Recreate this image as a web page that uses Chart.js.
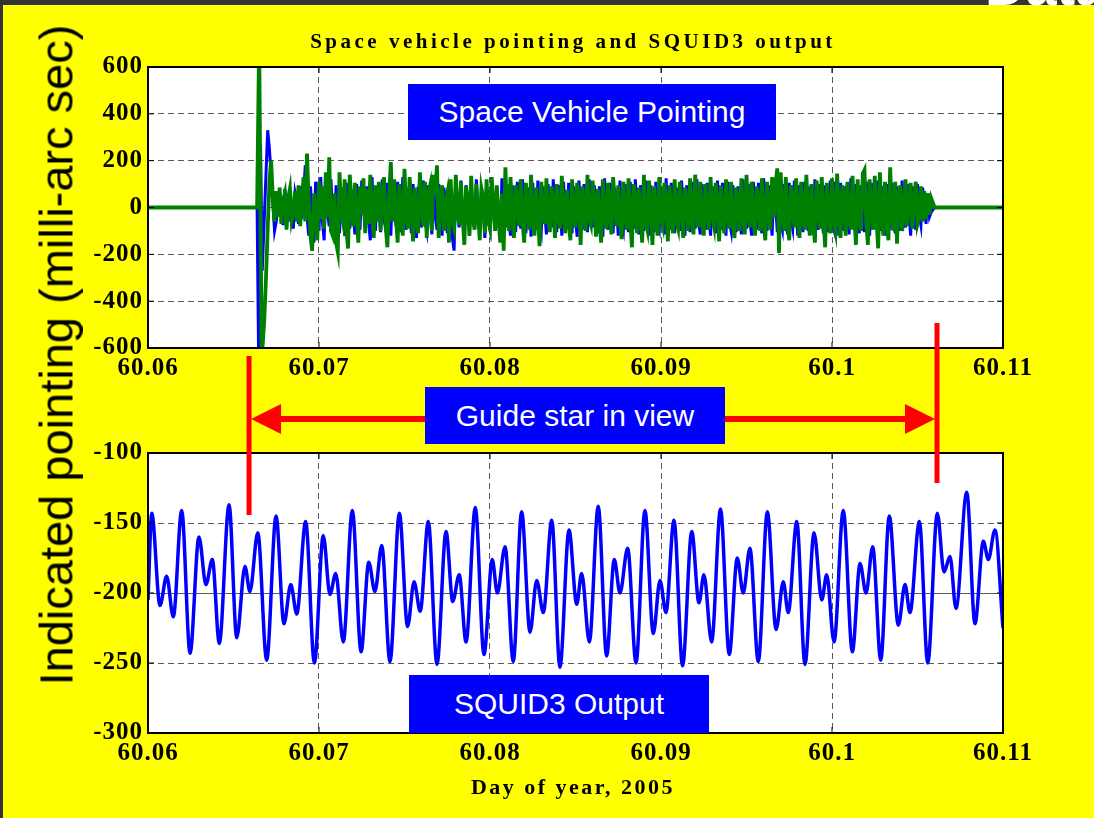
<!DOCTYPE html>
<html>
<head>
<meta charset="utf-8">
<script src="https://cdn.jsdelivr.net/npm/chart.js@4.4.1/dist/chart.umd.min.js"></script>
<style>
html,body{margin:0;padding:0}
body{width:1094px;height:818px;background:#ffff00;position:relative;overflow:hidden}
#topbar{position:absolute;left:0;top:0;width:1094px;height:5px;background:#333;z-index:4}
#leftbar{position:absolute;left:0;top:0;width:3px;height:818px;background:#333;z-index:4}
#corner{position:absolute;left:985px;top:-42px;font:bold 56px "Liberation Sans",Arial,sans-serif;line-height:56px;color:#fff;z-index:5}
canvas{position:absolute;left:0;top:0}
#c1{z-index:1}
#c2{z-index:2}
.box{position:absolute;background:#0000ff;color:#fff;font-family:"Liberation Sans",Arial,sans-serif;font-size:30px;display:flex;align-items:center;justify-content:center;z-index:3}
.serif{position:absolute;font-family:"Liberation Serif","Times New Roman",serif;font-weight:bold;color:#000;white-space:nowrap;text-align:center;z-index:3}
#ylab{position:absolute;left:56px;top:355px;transform:translate(-50%,-50%) rotate(-90deg);font:47px "Liberation Sans",Arial,sans-serif;line-height:1;white-space:nowrap;z-index:3}
</style>
</head>
<body>
<div id="topbar"></div>
<div id="leftbar"></div>
<div id="corner">Data</div>
<canvas id="c1" width="1094" height="818"></canvas>
<canvas id="c2" width="1094" height="818"></canvas>
<div class="serif" style="left:0;width:1146px;top:29px;font-size:21px;line-height:24px;letter-spacing:3.5px">Space vehicle pointing and SQUID3 output</div>
<div class="serif" style="left:0;width:1146px;top:775px;font-size:22px;line-height:24px;letter-spacing:2.5px">Day of year, 2005</div>
<div id="ylab">Indicated pointing (milli-arc sec)</div>
<div class="box" style="left:408px;top:84px;width:368px;height:56px">Space Vehicle Pointing</div>
<div class="box" style="left:425px;top:387px;width:300px;height:57px">Guide star in view</div>
<div class="box" style="left:409px;top:675px;width:300px;height:58px">SQUID3 Output</div>
<script>
// axis ticks
const dayTicks=[60.06,60.07,60.08,60.09,60.1,60.11]
const dayTickLabels=["60.06","60.07","60.08","60.09","60.1","60.11"]
const svTicks=[-600,-400,-200,0,200,400,600]
const squidTicks=[-300,-250,-200,-150,-100]

// guide star in view (day)
const guideStart=60.06591
const guideEnd=60.10614

// space vehicle pointing, sampled every 0.0001 day after the lead-in
const sampleStep=0.0001

const greenLeadDays=[60.06,60.06638,60.0665,60.06665]
const greenLeadVals=[0,0,720,-650]
const greenStart=60.0668
const greenVals=[
-480,-300,-90,110,200,40,-60,70,-40,85,-70,30,60,-95,40,80,-55,-20,70,-60,
95,-80,40,130,-60,230,20,-120,-185,60,-30,-140,110,-50,90,-90,150,-40,214,-100,
-120,60,-150,-190,150,-20,-60,120,-90,-175,140,10,-80,105,-40,-150,90,-30,125,-110,
80,-70,140,-20,-130,95,-60,110,-100,40,130,-80,-170,50,194,-60,120,-40,-150,100,
-50,-120,165,-30,-90,130,-10,-145,85,-60,-110,150,20,-80,110,-130,60,95,-100,140,
60,180,-130,40,95,-100,20,60,-150,120,-60,-90,140,-20,-75,110,-40,-160,90,30,
-120,135,-50,-95,100,-20,-140,80,40,-110,120,-60,-90,130,10,-100,95,-50,-150,60,
-184,172,-30,-100,130,-40,-130,95,20,-80,120,-60,-150,105,-10,-95,140,-40,-120,85,
-30,-165,110,-20,-70,125,-50,-105,90,30,-130,100,-40,-90,135,-20,-110,75,-60,-140,
120,-30,-85,105,40,-160,90,-20,-100,140,-50,-75,115,10,-125,80,-60,-150,120,-40,
-90,105,-30,-115,130,20,-80,95,-60,-135,110,-20,-95,125,-50,-170,100,30,-110,85,
-40,-150,140,-60,-95,115,0,-160,90,-30,-120,130,-50,-80,105,20,-145,95,-40,-110,
120,-60,-90,110,-20,-130,85,30,-100,125,-40,-115,140,-10,-85,110,-60,-120,100,-30,
-95,130,-40,-80,105,10,-145,95,-50,-110,120,-30,-90,110,-60,-130,85,20,-100,125,
-40,-115,140,-20,-85,110,-50,-120,90,30,-100,125,-60,-140,110,-20,-95,130,-40,100,
167,-195,150,-30,-100,130,-60,-140,95,20,-85,125,-50,-130,110,-40,-95,140,-20,-120,
100,-60,-150,115,10,-90,130,-40,-170,105,-30,-110,125,-60,-100,145,-20,-130,95,40,
-120,110,-50,-95,135,-30,-160,120,-40,-100,145,160,-60,-160,120,-30,-95,135,-50,-175,
150,-20,-120,110,-60,-140,172,-30,-100,110,-155,40,95,-100,-40,120,-80,30,105,-90,
20,110,-70,-40,90,-60,70,-50,60,-30,40]
const greenTailDays=[60.106,60.11]
const greenTailVals=[0,0]

const blueLeadDays=[60.06,60.06638,60.06648,60.06658,60.06668]
const blueLeadVals=[0,0,-720,270,-270]
const blueStart=60.067
const blueVals=[
330,250,140,20,-100,-60,40,60,-20,-75,80,10,-60,70,-40,-90,60,20,-70,90,
-50,60,180,-40,-120,90,-20,-150,110,30,-100,130,-60,-140,100,-20,-80,120,-50,-130,
95,-10,-110,85,20,-120,105,-40,-90,75,-20,-115,100,-30,-95,115,10,-85,90,-60,
-140,130,-20,-100,80,30,-105,120,-50,-90,105,-20,-120,95,40,-80,110,-60,-105,130,
-30,-95,85,10,-110,100,-40,-130,90,20,-85,115,-60,-100,95,-20,-115,125,-40,-95,
100,-50,-120,85,30,-110,100,-40,-130,-184,90,-30,-85,115,-50,-100,95,20,-120,105,
-40,-90,120,-20,-110,85,30,-130,100,-60,-95,115,-20,-100,90,-40,-115,125,10,-85,
100,-60,-120,95,-20,-105,110,-40,-90,120,-50,-110,85,20,-125,105,-30,-95,115,-60,
-100,90,-20,-115,100,-40,-85,120,-60,-105,95,30,-120,110,-40,-90,105,-20,-110,90,
-50,-125,115,-30,-95,100,-60,-105,120,10,-85,95,-40,-110,90,-20,-125,125,-50,-95,
105,-30,-110,85,20,-120,115,-60,-95,100,-40,-105,110,-20,-90,120,-50,-115,95,30,
-100,115,-40,-120,95,-20,-105,110,-60,-90,90,-30,-115,125,-50,-95,105,10,-110,85,
-40,-100,115,-20,-120,95,-50,-105,110,-30,-90,120,-60,-115,100,20,-95,105,-40,-120,
90,-20,-110,115,-50,-95,105,-30,-120,110,-60,-100,95,20,-105,90,-40,-115,120,-20,
-90,100,-60,-120,110,-30,-95,105,-50,-110,125,-20,-100,95,-40,-120,110,20,-105,115,
-60,-95,100,-30,-115,105,-50,-90,115,-20,-120,95,-40,-105,110,30,-100,90,-60,-115,
120,-20,-95,100,-50,-110,95,-30,-105,115,-60,-90,110,20,-120,105,-40,-100,90,-30,
-115,125,-50,-95,100,-20,-110,95,-60,-105,110,30,-120,105,-40,-90,115,-20,-100,90,
-50,-120,100,-30,-95,105,-60,-110,90,20,-100,115,-40,-85,100,-20,-120,90,-50,-95,
100,-30,-75,85,20,-70,60,-40,-20]
const blueTailDays=[60.106,60.11]
const blueTailVals=[0,0]

// SQUID3 output, turning points
const squidDays=[
60.06,60.06022,60.0607,60.06109,60.06148,60.06197,60.06246,60.06298,60.06339,60.06376,
60.06417,60.06474,60.06519,60.06567,60.06596,60.06642,60.06694,60.06749,60.06795,60.06835,
60.0687,60.06922,60.06973,60.07025,60.07064,60.07098,60.07142,60.07195,60.07246,60.07291,
60.07327,60.07367,60.07415,60.0747,60.07518,60.07556,60.07592,60.07639,60.0769,60.07743,
60.07782,60.0782,60.0786,60.07914,60.07965,60.08013,60.08043,60.08088,60.08136,60.08185,
60.08234,60.08273,60.08312,60.08361,60.08409,60.08462,60.08507,60.08536,60.08581,60.08633,
60.08682,60.08727,60.0876,60.08805,60.08854,60.08906,60.08955,60.08994,60.09029,60.09076,
60.09126,60.0918,60.09222,60.09251,60.09296,60.09348,60.09399,60.09446,60.09481,60.0952,
60.09569,60.09622,60.09673,60.09715,60.09744,60.09794,60.09842,60.09895,60.0994,60.09969,
60.10012,60.10066,60.10119,60.10164,60.10199,60.10238,60.10285,60.10335,60.10388,60.10427,
60.10456,60.10511,60.1056,60.10616,60.10655,60.1069,60.10725,60.10788,60.10836,60.10885,
60.10914,60.10953,60.11]
const squidVals=[
-205,-143,-209,-188,-217,-141,-243,-160,-194,-176,
-236,-137,-232,-181,-199,-157,-248,-145,-222,-194,
-215,-149,-250,-159,-201,-186,-235,-141,-242,-178,
-199,-166,-249,-143,-224,-192,-213,-149,-251,-156,
-206,-187,-235,-139,-244,-176,-200,-167,-249,-142,
-228,-191,-214,-148,-253,-155,-208,-186,-235,-138,
-245,-176,-200,-168,-250,-141,-229,-191,-214,-148,
-252,-156,-207,-187,-235,-140,-244,-175,-200,-168,
-249,-142,-226,-192,-214,-149,-251,-157,-205,-187,
-235,-141,-242,-179,-200,-167,-248,-145,-223,-194,
-214,-149,-250,-143,-185,-174,-211,-128,-222,-163,
-176,-155,-225]

function series(leadDays,leadVals,start,vals,tailDays,tailVals){
const pts=leadDays.map((d,i)=>({x:d,y:leadVals[i]}))
vals.forEach((v,i)=>pts.push({x:start+i*sampleStep,y:v}))
tailDays.forEach((d,i)=>pts.push({x:d,y:tailVals[i]}))
return pts
}

const tickFont={family:'"Liberation Serif","Times New Roman",serif',size:25,weight:'bold'}
const gridColor='#5a5a5a'

// white plot area, frame and inward ticks like the original
const plotBox={
id:'plotBox',
beforeDraw(chart){
const a=chart.chartArea,ctx=chart.ctx
ctx.letterSpacing='1px'
ctx.save()
ctx.fillStyle='#fff'
ctx.fillRect(a.left,a.top,a.right-a.left,a.bottom-a.top)
ctx.restore()
},
afterDatasetsDraw(chart){
const a=chart.chartArea,ctx=chart.ctx
ctx.save()
ctx.strokeStyle='#000'
ctx.lineWidth=1
chart.scales.x.ticks.forEach(t=>{
const x=chart.scales.x.getPixelForValue(t.value)
ctx.beginPath()
ctx.moveTo(x,a.bottom);ctx.lineTo(x,a.bottom-6)
ctx.moveTo(x,a.top);ctx.lineTo(x,a.top+6)
ctx.stroke()
})
chart.scales.y.ticks.forEach(t=>{
const y=chart.scales.y.getPixelForValue(t.value)
ctx.beginPath()
ctx.moveTo(a.left,y);ctx.lineTo(a.left+6,y)
ctx.moveTo(a.right,y);ctx.lineTo(a.right-6,y)
ctx.stroke()
})
ctx.lineWidth=2
ctx.strokeRect(a.left,a.top,a.right-a.left,a.bottom-a.top)
ctx.restore()
}
}

// red guide star markers, drawn across both panels
const guideMarks={
id:'guideMarks',
afterDraw(chart){
const ctx=chart.ctx,xs=chart.scales.x
const xa=xs.getPixelForValue(guideStart),xb=xs.getPixelForValue(guideEnd)
const ay=419
ctx.save()
ctx.strokeStyle='#ff0000'
ctx.fillStyle='#ff0000'
ctx.lineWidth=5
ctx.beginPath()
ctx.moveTo(xa,356);ctx.lineTo(xa,515)
ctx.moveTo(xb,323);ctx.lineTo(xb,483)
ctx.stroke()
ctx.lineWidth=6
ctx.beginPath()
ctx.moveTo(xa+28,ay);ctx.lineTo(xb-28,ay)
ctx.stroke()
ctx.beginPath()
ctx.moveTo(xa+2,ay);ctx.lineTo(xa+32,ay-15);ctx.lineTo(xa+32,ay+15);ctx.closePath()
ctx.moveTo(xb-2,ay);ctx.lineTo(xb-32,ay-15);ctx.lineTo(xb-32,ay+15);ctx.closePath()
ctx.fill()
ctx.restore()
}
}

function xScale(){
return {
type:'linear',min:60.06,max:60.11,
afterBuildTicks:s=>{s.ticks=dayTicks.map(v=>({value:v}))},
afterFit:s=>{s.height=40;s.paddingLeft=0;s.paddingRight=0},
ticks:{callback:(v,i)=>dayTickLabels[i],font:tickFont,color:'#000',padding:6,maxRotation:0,autoSkip:false},
grid:{color:gridColor,lineWidth:1,drawTicks:false},
border:{display:false,dash:[6,4]}
}
}

function yScale(ticks,solidAt){
return {
min:ticks[0],max:ticks[ticks.length-1],
afterBuildTicks:s=>{s.ticks=ticks.map(v=>({value:v}))},
afterFit:s=>{s.width=148;s.paddingTop=0;s.paddingBottom=0},
ticks:{font:tickFont,color:'#000',padding:5,autoSkip:false},
grid:{color:gridColor,lineWidth:1,drawTicks:false},
border:{display:false,dash:c=>(c.tick&&c.tick.value===solidAt)?[]:[6,4]}
}
}

new Chart(document.getElementById('c1'),{
type:'line',
data:{datasets:[
{data:series(greenLeadDays,greenLeadVals,greenStart,greenVals,greenTailDays,greenTailVals),borderColor:'#008000',borderWidth:3.8,pointRadius:0,tension:0,clip:0},
{data:series(blueLeadDays,blueLeadVals,blueStart,blueVals,blueTailDays,blueTailVals),borderColor:'#0000ff',borderWidth:3,pointRadius:0,tension:0,clip:0}
]},
options:{
responsive:false,animation:false,
layout:{padding:{left:0,top:67,right:91,bottom:430}},
plugins:{legend:{display:false},tooltip:{enabled:false}},
scales:{x:xScale(),y:yScale(svTicks,null)}
},
plugins:[plotBox]
})

new Chart(document.getElementById('c2'),{
type:'line',
data:{datasets:[
{data:squidDays.map((d,i)=>({x:d,y:squidVals[i]})),borderColor:'#0000ff',borderWidth:3.5,pointRadius:0,cubicInterpolationMode:'monotone',clip:0}
]},
options:{
responsive:false,animation:false,
layout:{padding:{left:0,top:453,right:91,bottom:45}},
plugins:{legend:{display:false},tooltip:{enabled:false}},
scales:{x:xScale(),y:yScale(squidTicks,-200)}
},
plugins:[plotBox,guideMarks]
})
</script>
</body>
</html>
